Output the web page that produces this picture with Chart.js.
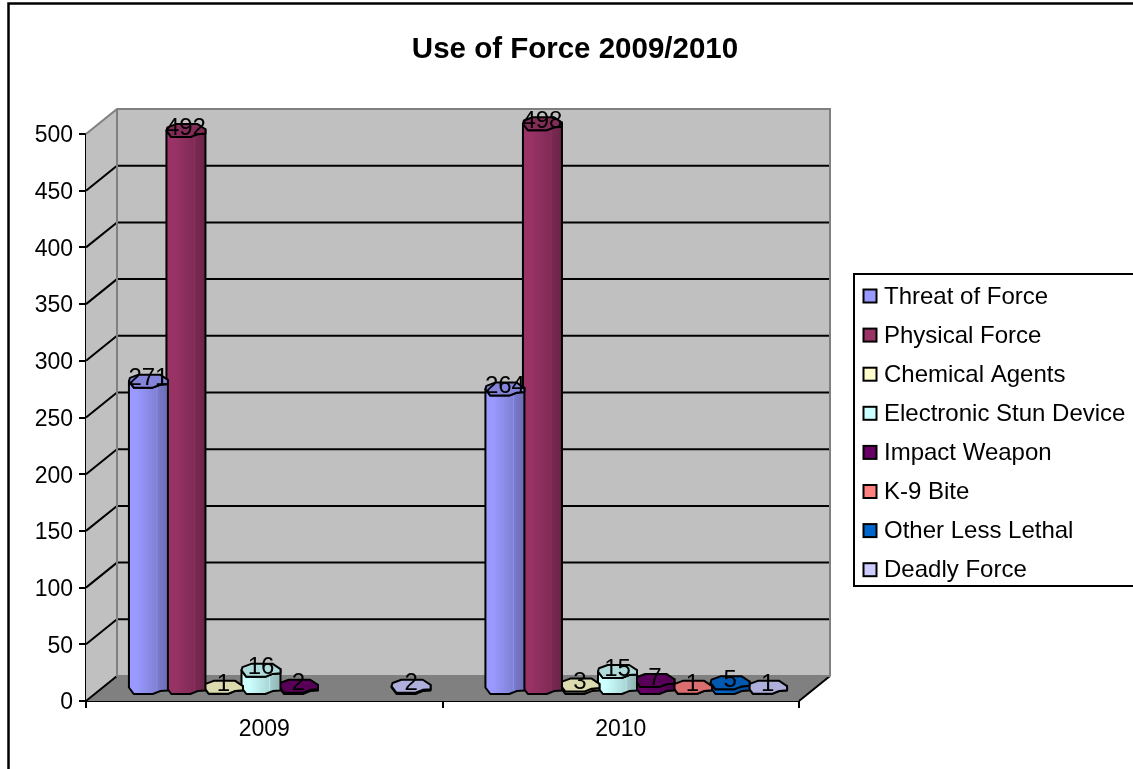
<!DOCTYPE html>
<html>
<head>
<meta charset="utf-8">
<title>Use of Force 2009/2010</title>
<script src="https://cdn.jsdelivr.net/npm/chart.js@4"></script>
<style>
  html, body { margin: 0; padding: 0; background: #fff; }
  canvas { display: block; }
</style>
</head>
<body>
<canvas id="chart" width="1133" height="769"></canvas>
<script>
// Reported use-of-force incidents by type and year.
const years = ['2009', '2010'];
const threatOfForce = [271, 264];
const physicalForce = [492, 498];
const chemicalAgents = [1, 3];
const electronicStunDevice = [16, 15];
const impactWeapon = [2, 7];
const k9Bite = [null, 1];
const otherLessLethal = [null, 5];
const deadlyForce = [2, 1];
const seriesNames = ['Threat of Force', 'Physical Force', 'Chemical Agents', 'Electronic Stun Device',
  'Impact Weapon', 'K-9 Bite', 'Other Less Lethal', 'Deadly Force'];
const seriesValues = [threatOfForce, physicalForce, chemicalAgents, electronicStunDevice,
  impactWeapon, k9Bite, otherLessLethal, deadlyForce];
const seriesColors = ['#9999FF', '#993366', '#FFFFCC', '#CCFFFF', '#660066', '#FF8080', '#0066CC', '#CCCCFF'];

const FONT = '"Liberation Sans", Arial, sans-serif';
const WALL_DX = 31, WALL_DY = -25;          // shift from the front plane to the back wall
const MID_DX = WALL_DX / 2, MID_DY = WALL_DY / 2;  // columns stand halfway into the depth
const RX = 19.5, RY = 6.5;

// Outline of a column cross-section, a coarse faceted ellipse (unit coordinates).
// The first six points form the front half, the rest the back half.
const FACETS = [[-1, 0], [-0.75, 1], [0.22, 1], [0.6, 0.55], [1, 0.45], [1, -0.2],
  [0.6, -1], [-0.5, -1], [-0.95, -0.5]];
const FRONT_POINTS = 6;

function shade(hex, f) {
  const n = parseInt(hex.slice(1), 16);
  const c = [n >> 16, (n >> 8) & 255, n & 255].map(v => Math.min(255, Math.round(v * f)));
  return `rgb(${c[0]},${c[1]},${c[2]})`;
}

function tracePoints(ctx, pts, move) {
  pts.forEach((p, i) => { if (i === 0 && move) ctx.moveTo(p[0], p[1]); else ctx.lineTo(p[0], p[1]); });
}

// Bar element drawn as a faceted cylinder set back into the chart's depth.
class CylinderElement extends Chart.BarElement {
  draw(ctx) {
    const { x, y, base } = this.getProps(['x', 'y', 'base']);
    const color = this.options.backgroundColor;
    const cx = x + MID_DX, topY = y + MID_DY, botY = base + MID_DY;
    const ring = cy => FACETS.map(f => [cx + f[0] * RX, cy + f[1] * RY]);
    const front = FACETS.slice(0, FRONT_POINTS);
    const top = front.map(f => [cx + f[0] * RX, topY + f[1] * RY]);
    const bottom = front.map(f => [cx + f[0] * RX, botY + f[1] * RY]).reverse();

    const grad = ctx.createLinearGradient(cx - RX, 0, cx + RX, 0);
    grad.addColorStop(0, shade(color, 1));
    grad.addColorStop(0.2, shade(color, 1));
    grad.addColorStop(0.7, shade(color, 0.84));
    grad.addColorStop(0.72, shade(color, 0.93));
    grad.addColorStop(0.74, shade(color, 0.8));
    grad.addColorStop(1, shade(color, 0.7));

    ctx.save();
    ctx.lineJoin = 'round';
    ctx.strokeStyle = '#000';
    ctx.lineWidth = 2;
    ctx.fillStyle = grad;
    ctx.beginPath();
    tracePoints(ctx, top, true);
    tracePoints(ctx, bottom, false);
    ctx.closePath();
    ctx.fill();
    ctx.stroke();

    ctx.fillStyle = shade(color, 0.86);
    ctx.beginPath();
    tracePoints(ctx, ring(topY), true);
    ctx.closePath();
    ctx.fill();
    ctx.stroke();
    ctx.restore();
  }
}
CylinderElement.id = 'cylinder';
CylinderElement.defaults = Chart.BarElement.defaults;
CylinderElement.defaultRoutes = Chart.BarElement.defaultRoutes;

class CylinderController extends Chart.BarController {}
CylinderController.id = 'cylinderBar';
CylinderController.defaults = Object.assign({}, Chart.BarController.defaults, { dataElementType: 'cylinder' });
CylinderController.overrides = Chart.BarController.overrides;

Chart.register(CylinderElement, CylinderController);

// Page frame, title centring over the frame's visible width, value-axis label nudge.
const frame = {
  id: 'frame',
  afterLayout(chart) {
    chart.titleBlock.left = 17;
    chart.titleBlock.right = chart.width;
    chart.scales.y.getLabelItems().forEach(item => { item.options.translation[1] += 2; });
  },
  beforeDraw(chart) {
    const { ctx, width, height } = chart;
    ctx.save();
    ctx.fillStyle = '#fff';
    ctx.fillRect(0, 0, width, height);
    ctx.strokeStyle = '#000';
    ctx.lineWidth = 2.5;
    ctx.beginPath();
    ctx.moveTo(8.5, height);
    ctx.lineTo(8.5, 3.5);
    ctx.lineTo(width, 3.5);
    ctx.stroke();
    ctx.restore();
  }
};

// Walls, floor and the horizontal rules that run along them.
const room = {
  id: 'room',
  beforeDatasetsDraw(chart) {
    const { ctx, chartArea: a, scales: { y } } = chart;
    const L = a.left, R = a.right, B = a.bottom, T = a.top;
    const dx = WALL_DX, dy = WALL_DY;
    ctx.save();
    ctx.fillStyle = '#C0C0C0';
    ctx.fillRect(L + dx, T + dy, R - L, B - T);
    ctx.beginPath();
    ctx.moveTo(L, T); ctx.lineTo(L + dx, T + dy); ctx.lineTo(L + dx, B + dy); ctx.lineTo(L, B);
    ctx.closePath(); ctx.fill();
    ctx.fillStyle = '#808080';
    ctx.beginPath();
    ctx.moveTo(L, B); ctx.lineTo(L + dx, B + dy); ctx.lineTo(R + dx, B + dy); ctx.lineTo(R, B);
    ctx.closePath(); ctx.fill();

    ctx.lineWidth = 2;
    ctx.strokeStyle = '#000';
    y.ticks.forEach(t => {
      if (t.value === 500 || t.value === 0) return;
      const py = y.getPixelForValue(t.value);
      ctx.beginPath();
      ctx.moveTo(L, py); ctx.lineTo(L + dx, py + dy); ctx.lineTo(R + dx, py + dy);
      ctx.stroke();
    });
    ctx.beginPath();
    ctx.moveTo(L, B); ctx.lineTo(L + dx, B + dy);
    ctx.moveTo(R, B); ctx.lineTo(R + dx, B + dy);
    ctx.stroke();

    ctx.strokeStyle = '#808080';
    ctx.beginPath();
    ctx.moveTo(L, T); ctx.lineTo(L + dx, T + dy); ctx.lineTo(R + dx, T + dy); ctx.lineTo(R + dx, B + dy);
    ctx.moveTo(L + dx, T + dy); ctx.lineTo(L + dx, B + dy); ctx.lineTo(R + dx, B + dy);
    ctx.stroke();
    ctx.restore();
  },
  // Value labels sit over the column tops.
  afterDatasetsDraw(chart) {
    const { ctx } = chart;
    ctx.save();
    ctx.font = '24px ' + FONT;
    ctx.fillStyle = '#000';
    ctx.textAlign = 'center';
    ctx.textBaseline = 'middle';
    chart.data.datasets.forEach((ds, i) => {
      chart.getDatasetMeta(i).data.forEach((el, j) => {
        const v = ds.data[j];
        if (v === null) return;
        ctx.fillText(String(v), el.x + MID_DX, el.y + MID_DY - 2.5);
      });
    });
    ctx.restore();
  }
};

// Boxed legend to the right of the plot.
const boxedLegend = {
  id: 'boxedLegend',
  afterDraw(chart) {
    const { ctx } = chart;
    const left = 854, top = 274, right = 1132, bottom = 586, rowH = 39.1, firstY = 296;
    ctx.save();
    ctx.fillStyle = '#fff';
    ctx.fillRect(left, top, right - left + 2, bottom - top);
    ctx.strokeStyle = '#000';
    ctx.lineWidth = 2;
    ctx.strokeRect(left, top, right - left + 4, bottom - top);
    ctx.font = '24px ' + FONT;
    ctx.textBaseline = 'middle';
    chart.data.datasets.forEach((ds, i) => {
      const cy = firstY + i * rowH;
      ctx.fillStyle = ds.backgroundColor;
      ctx.fillRect(863.5, cy - 6.5, 13, 13);
      ctx.strokeRect(863.5, cy - 6.5, 13, 13);
      ctx.fillStyle = '#000';
      ctx.fillText(ds.label, 884, cy + 1);
    });
    ctx.restore();
  }
};

new Chart(document.getElementById('chart'), {
  type: 'cylinderBar',
  data: {
    labels: years,
    datasets: seriesNames.map((name, i) => ({
      label: name,
      data: seriesValues[i],
      backgroundColor: seriesColors[i],
      clip: false,
      categoryPercentage: 0.842,
      barPercentage: 1
    }))
  },
  plugins: [frame, room, boxedLegend],
  options: {
    responsive: false,
    animation: false,
    layout: { padding: { left: 0, top: 0, right: 334, bottom: 0 } },
    plugins: {
      legend: { display: false },
      tooltip: { enabled: false },
      title: {
        display: true,
        text: 'Use of Force 2009/2010',
        color: '#000',
        font: { family: FONT, size: 29.5, weight: 'bold', lineHeight: 1.2 },
        padding: { top: 32, bottom: 66.6 }
      }
    },
    scales: {
      x: {
        offset: true,
        afterFit(scale) { scale.height = 68; },
        border: { color: '#000', width: 2 },
        grid: { drawOnChartArea: false, color: '#000', lineWidth: 2, tickLength: 7, tickColor: '#000', offset: true },
        ticks: { color: '#000', font: { family: FONT, size: 23 }, padding: 8, maxRotation: 0 }
      },
      y: {
        min: 0,
        max: 500,
        afterFit(scale) { scale.width = 86; },
        border: { color: '#000', width: 2 },
        grid: { drawOnChartArea: false, color: '#000', lineWidth: 2, tickLength: 7, tickColor: '#000' },
        ticks: { stepSize: 50, color: '#000', font: { family: FONT, size: 23 }, padding: 6 }
      }
    }
  }
});
</script>
</body>
</html>
